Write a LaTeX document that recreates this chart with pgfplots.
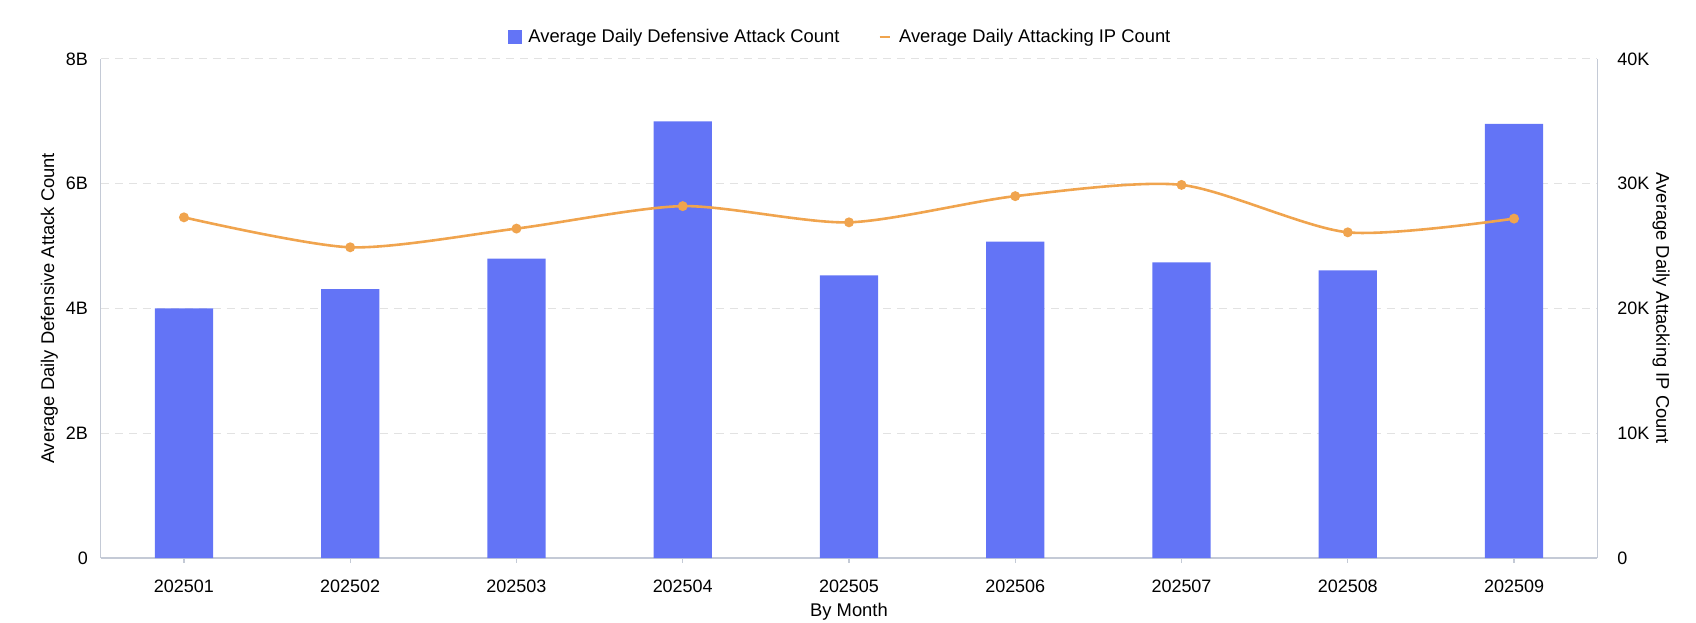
\documentclass[border=0pt]{standalone}
\usepackage{fontspec}
\setmainfont{Liberation Sans}
\usepackage{pgfplots}
\pgfplotsset{compat=1.18}
\definecolor{barblue}{RGB}{99,116,246}
\definecolor{lineorange}{RGB}{240,164,78}
\definecolor{axisgray}{RGB}{196,202,214}
\definecolor{gridgray}{RGB}{226,226,226}
\newcommand{\f}{\fontsize{9}{11}\selectfont}
\newcommand{\fl}{\fontsize{9.2}{11}\selectfont}
\begin{document}
\begin{tikzpicture}
\useasboundingbox (-50.5pt,-32.5pt) rectangle (799pt,279.5pt);
\begin{axis}[
  at={(0,0)}, anchor=south west,
  scale only axis, width=749.5pt, height=250pt,
  xmin=-0.5, xmax=8.5, ymin=0, ymax=8,
  axis x line=bottom, axis y line=left,
  axis line style={axisgray, line width=0.6pt, -},
  xtick={0,...,8},
  xticklabels={202501,202502,202503,202504,202505,202506,202507,202508,202509},
  ytick={0,2,4,6,8}, yticklabels={0,2B,4B,6B,8B},
  x tick style={axisgray, line width=0.6pt}, major tick length=2.5pt,
  tick align=outside,
  y tick style={draw=none},
  ymajorgrids, grid style={gridgray, dash pattern=on 4pt off 3pt, line width=0.6pt},
  tick label style={font=\f, black},
  /pgf/number format/assume math mode=true,
  xticklabel style={yshift=-5pt},
  yticklabel style={xshift=-0.5pt},
  xlabel={By Month}, ylabel={Average Daily Defensive Attack Count},
  label style={font=\fl},
  xlabel style={at={(axis description cs:0.5,-0.108)}, anchor=center},
  ylabel style={at={(axis description cs:-0.0343,0.5)}, anchor=center, rotate=0},
  ybar, bar width=0.35,
]
\addplot[fill=barblue, draw=none] coordinates {
(0,4.00) (1,4.31) (2,4.80) (3,7.00) (4,4.53) (5,5.07) (6,4.74) (7,4.61) (8,6.96)};
\end{axis}
\begin{axis}[
  at={(0,0)}, anchor=south west,
  scale only axis, width=749.5pt, height=250pt,
  xmin=-0.5, xmax=8.5, ymin=0, ymax=40,
  axis x line=none, axis y line=right,
  axis line style={axisgray, line width=0.6pt, -},
  ytick={0,10,20,30,40}, yticklabels={0,10K,20K,30K,40K},
  y tick style={draw=none},
  tick label style={font=\f, black},
  yticklabel style={xshift=4.5pt},
  ylabel={Average Daily Attacking IP Count},
  label style={font=\fl},
  ylabel style={at={(axis description cs:1.0427,0.5)}, anchor=center, rotate=180},
  legend style={at={(axis description cs:0.5,1)}, anchor=center, yshift=10.9pt, xshift=-4pt,
    draw=none, fill=none, font=\fl, legend columns=2,
    /tikz/every even column/.append style={column sep=17.5pt}},
  legend cell align=left,
]
\addlegendimage{legend image code/.code={\fill[barblue] (0pt,-3.3pt) rectangle (6.6pt,3.3pt); \path[draw=none,fill=none] (0pt,0pt) -- (8.2pt,0pt);}}
\addlegendentry{Average Daily Defensive Attack Count}
\addplot[lineorange, line width=1.3pt, smooth, tension=0.45, mark=*, mark size=1.8pt,
  mark options={fill=lineorange, draw=lineorange},
  legend image code/.code={\draw[lineorange, line width=1.2pt] (0pt,0pt) -- (5pt,0pt); \path[draw=none,fill=none] (0pt,0pt) -- (7.8pt,0pt);}]
coordinates {
(0,27.3) (1,24.9) (2,26.4) (3,28.2) (4,26.9) (5,29.0) (6,29.9) (7,26.1) (8,27.2)};
\addlegendentry{Average Daily Attacking IP Count}
\end{axis}
\end{tikzpicture}
\end{document}
